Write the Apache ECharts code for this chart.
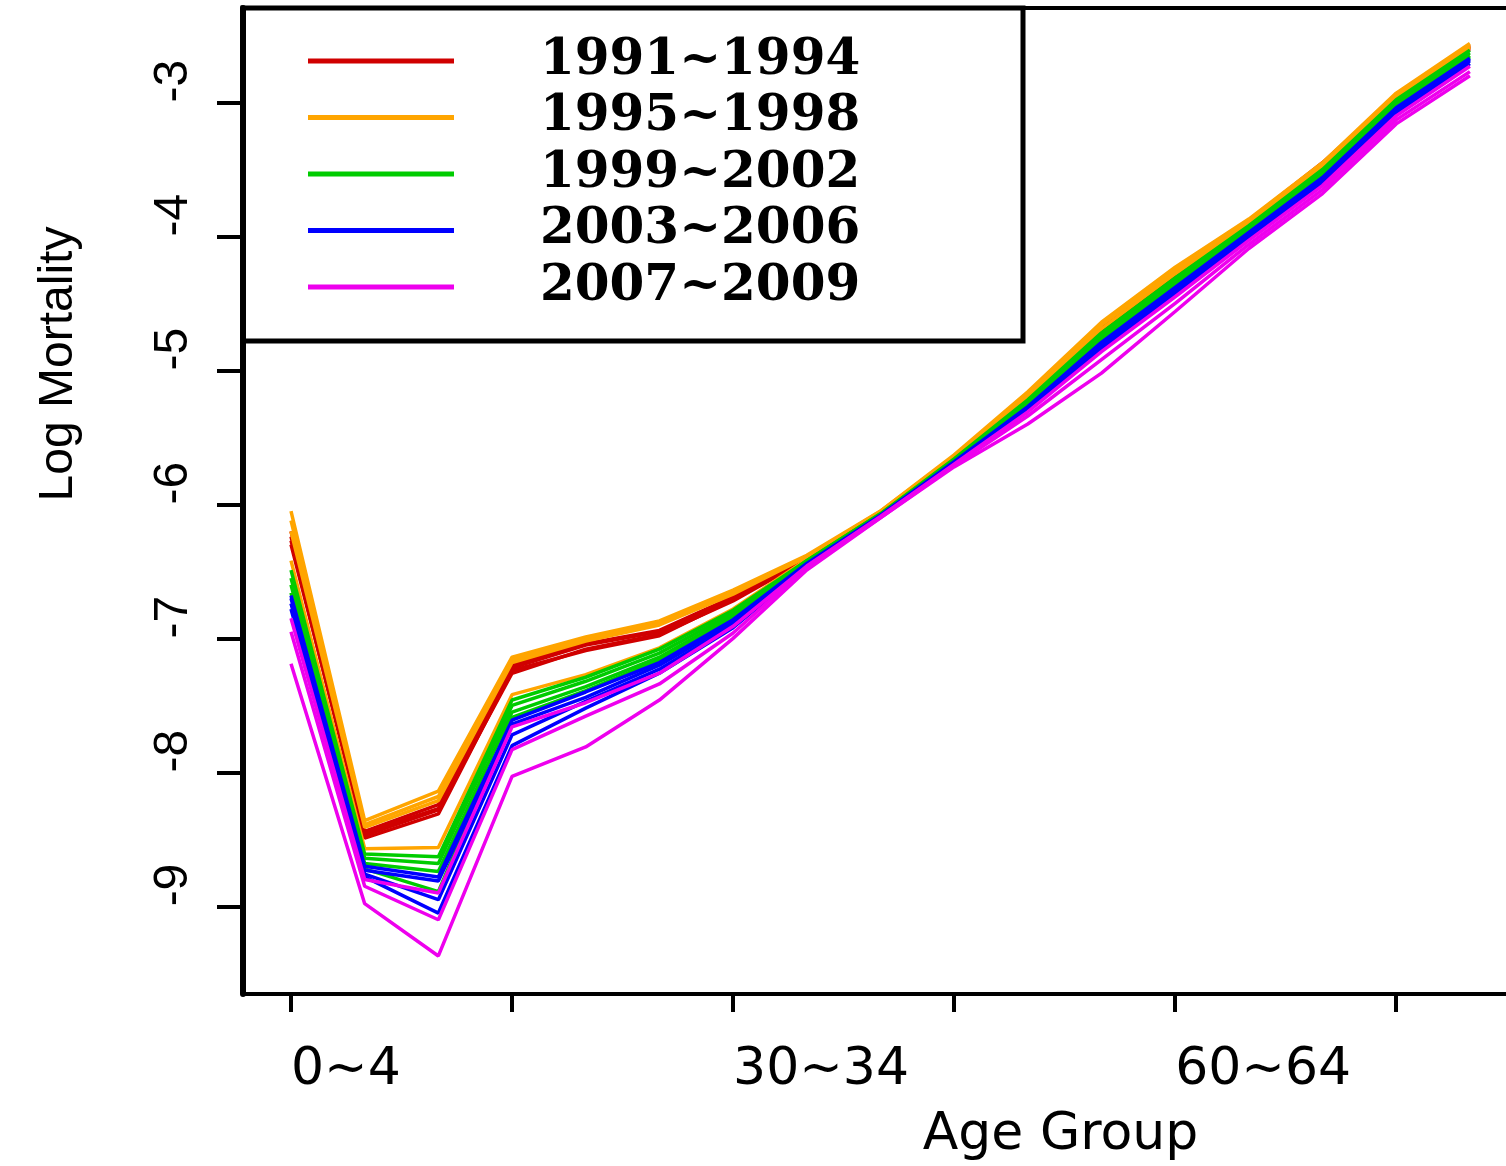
<!DOCTYPE html>
<html>
<head>
<meta charset="utf-8">
<script src="https://cdn.jsdelivr.net/npm/echarts@6/dist/echarts.min.js"></script>
<style>
html,body{margin:0;padding:0;background:#fff;}
#chart{width:1506px;height:1166px;}
</style>
</head>
<body>
<div id="chart"></div>
<script>
const ageGroups = ['0~4','5~9','10~14','15~19','20~24','25~29','30~34','35~39','40~44','45~49','50~54','55~59','60~64','65~69','70~74','75~79','80~84'];
const xTickIdx = [0, 3, 6, 9, 12, 15];
const xLabelIdx = [0, 6, 12];
const yTicks = [-9, -8, -7, -6, -5, -4, -3];

const periods = ['1991~1994', '1995~1998', '1999~2002', '2003~2006', '2007~2009'];
const periodColors = ['#d00000', '#ffa500', '#00cc00', '#0000ff', '#ee00ee'];
const periodYears = [
  ['1991', '1992', '1993', '1994'],
  ['1995', '1996', '1997', '1998'],
  ['1999', '2000', '2001', '2002'],
  ['2003', '2004', '2005', '2006'],
  ['2007', '2008', '2009']
];

const y1991 = [-6.20,-8.44,-8.24,-7.22,-7.05,-6.95,-6.71,-6.40,-6.06,-5.65,-5.18,-4.66,-4.25,-3.88,-3.45,-2.95,-2.57];
const y1992 = [-6.24,-8.47,-8.28,-7.26,-7.08,-6.97,-6.72,-6.41,-6.07,-5.66,-5.19,-4.68,-4.27,-3.89,-3.47,-2.96,-2.59];
const y1993 = [-6.27,-8.49,-8.31,-7.24,-7.09,-6.98,-6.71,-6.40,-6.06,-5.66,-5.20,-4.70,-4.29,-3.91,-3.48,-2.97,-2.60];
const y1994 = [-6.30,-8.45,-8.27,-7.20,-7.04,-6.94,-6.69,-6.39,-6.06,-5.65,-5.19,-4.69,-4.28,-3.90,-3.47,-2.96,-2.58];
const y1995 = [-6.05,-8.36,-8.14,-7.14,-6.99,-6.87,-6.64,-6.38,-6.05,-5.63,-5.16,-4.64,-4.23,-3.87,-3.45,-2.93,-2.56];
const y1996 = [-6.12,-8.39,-8.18,-7.16,-7.00,-6.89,-6.66,-6.39,-6.05,-5.64,-5.17,-4.65,-4.25,-3.88,-3.46,-2.94,-2.57];
const y1997 = [-6.20,-8.41,-8.21,-7.18,-7.02,-6.90,-6.67,-6.39,-6.06,-5.64,-5.18,-4.66,-4.26,-3.88,-3.47,-2.95,-2.58];
const y1998 = [-6.42,-8.57,-8.56,-7.42,-7.27,-7.07,-6.78,-6.41,-6.06,-5.65,-5.20,-4.69,-4.28,-3.90,-3.48,-2.96,-2.59];
const y1999 = [-6.49,-8.61,-8.63,-7.46,-7.29,-7.08,-6.79,-6.42,-6.07,-5.66,-5.22,-4.72,-4.31,-3.92,-3.50,-2.98,-2.61];
const y2000 = [-6.55,-8.64,-8.68,-7.50,-7.32,-7.11,-6.81,-6.42,-6.07,-5.67,-5.24,-4.74,-4.33,-3.94,-3.52,-3.00,-2.63];
const y2001 = [-6.60,-8.68,-8.74,-7.55,-7.36,-7.14,-6.83,-6.43,-6.08,-5.67,-5.25,-4.76,-4.35,-3.95,-3.54,-3.02,-2.65];
const y2002 = [-6.66,-8.72,-8.89,-7.59,-7.39,-7.16,-6.85,-6.44,-6.08,-5.68,-5.26,-4.78,-4.37,-3.97,-3.55,-3.03,-2.66];
const y2003 = [-6.68,-8.70,-8.78,-7.61,-7.40,-7.18,-6.86,-6.44,-6.08,-5.68,-5.27,-4.79,-4.38,-3.97,-3.56,-3.04,-2.67];
const y2004 = [-6.70,-8.73,-8.81,-7.64,-7.44,-7.20,-6.88,-6.45,-6.09,-5.69,-5.28,-4.80,-4.40,-3.99,-3.57,-3.05,-2.68];
const y2005 = [-6.74,-8.76,-8.95,-7.72,-7.47,-7.23,-6.90,-6.45,-6.09,-5.69,-5.29,-4.82,-4.41,-4.00,-3.59,-3.07,-2.69];
const y2006 = [-6.78,-8.78,-9.05,-7.80,-7.52,-7.26,-6.92,-6.46,-6.09,-5.70,-5.30,-4.84,-4.43,-4.01,-3.60,-3.09,-2.71];
const y2007 = [-6.85,-8.80,-8.90,-7.66,-7.48,-7.26,-6.91,-6.46,-6.09,-5.70,-5.31,-4.86,-4.45,-4.03,-3.62,-3.10,-2.73];
const y2008 = [-6.95,-8.85,-9.10,-7.83,-7.58,-7.34,-6.96,-6.47,-6.10,-5.71,-5.34,-4.92,-4.50,-4.06,-3.65,-3.13,-2.77];
const y2009 = [-7.19,-8.98,-9.37,-8.03,-7.81,-7.46,-7.00,-6.49,-6.10,-5.72,-5.40,-5.02,-4.56,-4.09,-3.68,-3.16,-2.80];

const yearData = {
  '1991': y1991, '1992': y1992, '1993': y1993, '1994': y1994,
  '1995': y1995, '1996': y1996, '1997': y1997, '1998': y1998,
  '1999': y1999, '2000': y2000, '2001': y2001, '2002': y2002,
  '2003': y2003, '2004': y2004, '2005': y2005, '2006': y2006,
  '2007': y2007, '2008': y2008, '2009': y2009
};

const series = [];
periods.forEach(function (p, pi) {
  periodYears[pi].forEach(function (yr) {
    series.push({
      type: 'line',
      name: p,
      id: 'y' + yr,
      xAxisIndex: 0,
      data: yearData[yr].map(function (v, i) { return [i, v]; }),
      symbol: 'none',
      showSymbol: false,
      color: periodColors[pi],
      lineStyle: { width: 3.5, color: periodColors[pi] },
      emphasis: { disabled: true },
      z: 3
    });
  });
});

const X_MIN = -0.6516, X_MAX = 16.49;

const chart = echarts.init(document.getElementById('chart'), null, { renderer: 'canvas' });
chart.setOption({
  animation: false,
  backgroundColor: '#ffffff',
  grid: {
    left: 243, top: 8, right: 0, bottom: 166,
    show: false
  },
  legend: {
    data: periods,
    orient: 'vertical',
    left: 308, top: 35,
    padding: 0,
    itemGap: 4.5,
    icon: 'rect',
    itemWidth: 146,
    itemHeight: 5,
    selectedMode: false,
    textStyle: {
      fontFamily: 'DejaVu Serif',
      fontWeight: 'bold',
      fontSize: 50,
      lineHeight: 52,
      color: '#000',
      padding: [0, 0, 0, 81]
    }
  },
  graphic: [{
    type: 'rect',
    shape: { x: 243, y: 8, width: 780, height: 333 },
    style: { fill: null, stroke: '#000', lineWidth: 5 },
    z: 10,
    silent: true
  }],
  xAxis: [{
    type: 'value',
    min: X_MIN,
    max: X_MAX,
    name: 'Age Group',
    nameLocation: 'middle',
    nameGap: 115,
    nameTextStyle: {
      fontFamily: 'DejaVu Sans', fontSize: 52, color: '#000',
      padding: [0, 0, 0, 372]
    },
    splitLine: { show: false },
    axisLine: { show: true, onZero: false, lineStyle: { color: '#000', width: 4 } },
    axisTick: { show: true, customValues: xTickIdx, length: 18, lineStyle: { color: '#000', width: 4 } },
    axisLabel: {
      customValues: xLabelIdx,
      formatter: function (v) { return ageGroups[Math.round(v)]; },
      align: 'left',
      margin: 50,
      fontFamily: 'DejaVu Sans', fontSize: 52, color: '#000'
    }
  }, {
    type: 'value',
    position: 'top',
    min: X_MIN,
    max: X_MAX,
    splitLine: { show: false },
    axisLine: { show: true, onZero: false, lineStyle: { color: '#000', width: 4 } },
    axisTick: { show: false },
    axisLabel: { show: false }
  }],
  yAxis: {
    type: 'value',
    min: -9.654,
    max: -2.295,
    name: 'Log Mortality',
    nameLocation: 'middle',
    nameGap: 160,
    nameTextStyle: {
      fontFamily: 'Liberation Sans', fontSize: 48, color: '#000',
      padding: [0, 0, 0, 274]
    },
    splitLine: { show: false },
    axisLine: { show: true, onZero: false, lineStyle: { color: '#000', width: 6 } },
    axisTick: { show: true, customValues: yTicks, length: 26, lineStyle: { color: '#000', width: 4 } },
    axisLabel: {
      customValues: yTicks,
      rotate: 90,
      align: 'left',
      verticalAlign: 'bottom',
      margin: 45,
      fontFamily: 'Liberation Sans', fontSize: 48, color: '#000',
      formatter: function (v) { return String(v); }
    }
  },
  series: series
});
</script>
</body>
</html>
